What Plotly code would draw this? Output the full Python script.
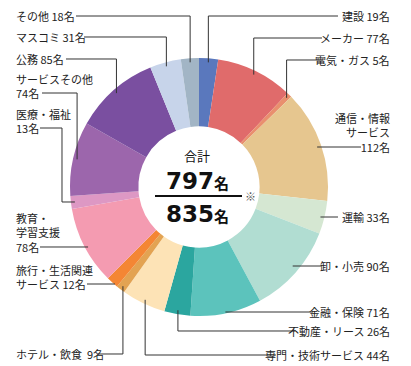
import math
import plotly.graph_objects as go

# ---- data ----
categories = ["建設", "メーカー", "電気・ガス", "通信・情報サービス", "運輸", "卸・小売",
              "金融・保険", "不動産・リース", "専門・技術サービス", "ホテル・飲食",
              "旅行・生活関連サービス", "教育・学習支援", "医療・福祉", "サービスその他",
              "公務", "マスコミ", "その他"]
values = [19, 77, 5, 112, 33, 90, 71, 26, 44, 9, 12, 78, 13, 74, 85, 31, 18]
label_lines = [
    ["建設 19名"], ["メーカー 77名"], ["電気・ガス 5名"], ["通信・情報", "サービス", "112名"],
    ["運輸 33名"], ["卸・小売 90名"], ["金融・保険 71名"], ["不動産・リース 26名"],
    ["専門・技術サービス 44名"], ["ホテル・飲食  9名"], ["旅行・生活関連", "サービス 12名"],
    ["教育・", "学習支援", "78名"], ["医療・福祉", "13名"], ["サービスその他", "74名"],
    ["公務 85名"], ["マスコミ 31名"], ["その他 18名"],
]
total_text = ["合計", "797", "835"]
unit = "名"

colors = ["#5a78bd", "#e06b6b", "#e98f6e", "#e6c68f", "#d5e7d2", "#b1ddd2",
          "#5cc3bc", "#2ba69f", "#fde3b6", "#e3a352", "#f48634", "#f49bb1",
          "#dd98c4", "#9c66ac", "#7a4fa0", "#c7d4ea", "#a2b5c5"]

# ---- layout (pixels) ----
W, H = 411, 366
CX, CY, R = 199, 187, 129
HOLE = 0.47
R_ANCHOR = 125
FONT_SIZE = 11
LINE_GAP = 1.3 * FONT_SIZE

# label layout: side, text x, last-line y, line start x, kind, elbow x
label_layout = [
    ("r", 392, 16, 338, "hv", None),
    ("r", 392, 38, 322, "hv", None),
    ("r", 392, 60, 323, "hv", None),
    ("r", 392, 147, 361, "h", None),
    ("r", 392, 217, 338, "h", None),
    ("r", 392, 266, 322, "h", None),
    ("r", 392, 312, 313, "h", None),
    ("r", 392, 331, 295, "hv", None),
    ("r", 392, 355, 276, "hv", None),
    ("l", 14, 354, 98, "hv", None),
    ("l", 14, 284, 87, "h", None),
    ("l", 14, 247, 40, "h", None),
    ("l", 14, 128, 40, "hvh", 62),
    ("l", 14, 93, 42, "hv", None),
    ("l", 14, 59, 66, "hv", None),
    ("l", 14, 37, 84, "hv", None),
    ("l", 14, 16, 76, "hv", None),
]


def px(x):
    return x / W


def py(y):
    return 1 - y / H


fig = go.Figure()
fig.add_trace(go.Pie(
    labels=categories, values=values, sort=False, direction="clockwise",
    rotation=0, hole=HOLE, textinfo="none", hoverinfo="label+value",
    marker=dict(colors=colors, line=dict(width=0)),
    domain=dict(x=[px(CX - R), px(CX + R)], y=[py(CY + R), py(CY - R)]),
    showlegend=False,
))

annotations = []
shapes = []
tot = sum(values)
cum = 0
lab_font = dict(family="Noto Sans CJK JP", size=FONT_SIZE, color="#222")
for i, v in enumerate(values):
    mid = (cum + v / 2) / tot * 2 * math.pi
    cum += v
    ax = CX + R_ANCHOR * math.sin(mid)
    ay = CY - R_ANCHOR * math.cos(mid)
    side, tx, ly, lx, kind, ex = label_layout[i]
    lines = label_lines[i]
    n = len(lines)
    cy_block = ly - (n - 1) * LINE_GAP / 2
    annotations.append(dict(
        x=px(tx), y=py(cy_block), xref="paper", yref="paper", text="<br>".join(lines),
        showarrow=False, align="left" if side == "l" else "right",
        xanchor="left" if side == "l" else "right", yanchor="middle", font=lab_font,
    ))
    if kind == "h":
        pts = [(lx, ly), (ax, ly)]
    elif kind == "hv":
        pts = [(lx, ly), (ax, ly), (ax, ay)]
    else:
        pts = [(lx, ly), (ex, ly), (ex, ay), (ax, ay)]
    path = "M " + " L ".join(f"{px(a):.5f},{py(b):.5f}" for a, b in pts)
    shapes.append(dict(type="path", path=path, xref="paper", yref="paper",
                       line=dict(color="#333", width=1)))

# centre text
annotations.append(dict(x=px(197), y=py(155), xref="paper", yref="paper", text=total_text[0],
                        showarrow=False, xanchor="center", yanchor="middle",
                        font=dict(family="Noto Sans CJK JP", size=13, color="#111")))
for txt, yy in [(total_text[1], 181), (total_text[2], 214)]:
    annotations.append(dict(
        x=px(197), y=py(yy), xref="paper", yref="paper",
        text=f"{txt}<span style='font-size:15px'>{unit}</span>",
        showarrow=False, xanchor="center", yanchor="middle",
        font=dict(family="DejaVu Sans, Noto Sans CJK JP", size=23, color="#111", weight="bold")))
annotations.append(dict(x=px(250), y=py(196), xref="paper", yref="paper", text="※",
                        showarrow=False, xanchor="center", yanchor="middle",
                        font=dict(family="Noto Sans CJK JP", size=11, color="#555")))
shapes.append(dict(type="line", xref="paper", yref="paper", x0=px(155), x1=px(242),
                   y0=py(196), y1=py(196), line=dict(color="#111", width=2)))

fig.update_layout(
    width=W, height=H, margin=dict(l=0, r=0, t=0, b=0),
    paper_bgcolor="white", plot_bgcolor="white",
    annotations=annotations, shapes=shapes,
)
fig.write_html("out.html")
